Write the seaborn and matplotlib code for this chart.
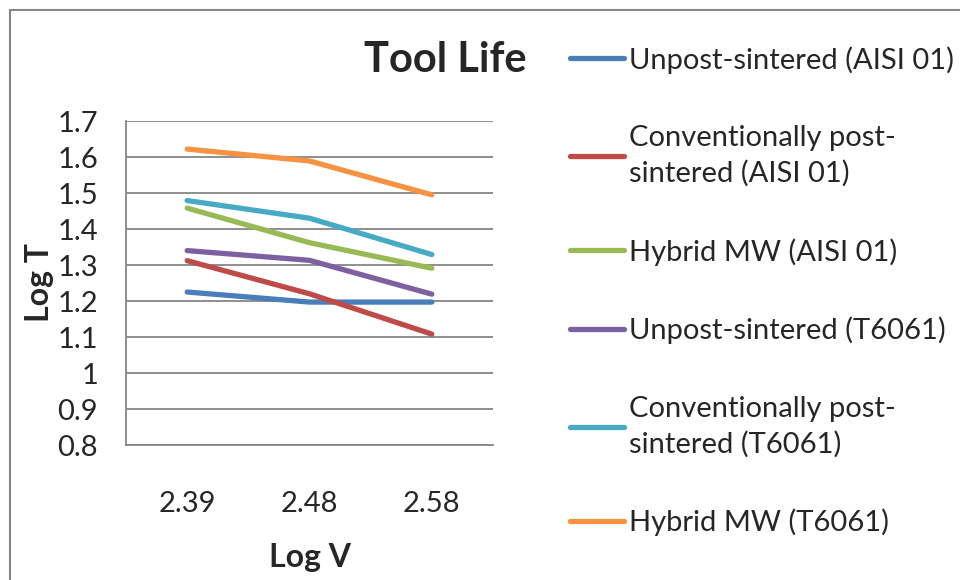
import pandas as pd
import seaborn as sns
import matplotlib.pyplot as plt
from matplotlib.patches import Rectangle

# values
log_v = ['2.39', '2.48', '2.58']
series_names = [
    'Unpost-sintered (AISI 01)',
    'Conventionally post-\nsintered (AISI 01)',
    'Hybrid MW (AISI 01)',
    'Unpost-sintered (T6061)',
    'Conventionally post-\nsintered (T6061)',
    'Hybrid MW (T6061)',
]
unpost_aisi = [1.225, 1.197, 1.197]
conv_aisi = [1.312, 1.220, 1.108]
hybrid_aisi = [1.458, 1.362, 1.291]
unpost_t6061 = [1.340, 1.313, 1.219]
conv_t6061 = [1.479, 1.430, 1.329]
hybrid_t6061 = [1.622, 1.589, 1.495]
colors = ['#4A7EBB', '#BE4B48', '#98B954', '#7D60A0', '#46AAC5', '#F69240']

values = [unpost_aisi, conv_aisi, hybrid_aisi, unpost_t6061, conv_t6061, hybrid_t6061]
rows = []
for name, vals in zip(series_names, values):
    for x, y in zip(log_v, vals):
        rows.append({'Log V': x, 'Log T': y, 'Series': name})
df = pd.DataFrame(rows)

sns.set_style('white')
plt.rcParams['font.family'] = ['Lato', 'DejaVu Sans']

fig = plt.figure(figsize=(9.6, 5.8), dpi=100)
W, H = 960, 580
# axes placed in pixel coords of the reference
left, right, top, bottom = 126, 493, 121, 445
ax = fig.add_axes([left / W, 1 - bottom / H, (right - left) / W, (bottom - top) / H])

sns.lineplot(data=df, x='Log V', y='Log T', hue='Series', palette=colors,
             sort=False, linewidth=3.8, ax=ax, legend=False,
             solid_capstyle='round', solid_joinstyle='round')

ax.set_xlim(-0.5, 2.5)
ax.set_ylim(0.8, 1.7)
ax.set_yticks([0.8, 0.9, 1.0, 1.1, 1.2, 1.3, 1.4, 1.5, 1.6, 1.7])
ax.set_yticklabels(['0.8', '0.9', '1', '1.1', '1.2', '1.3', '1.4', '1.5', '1.6', '1.7'])
ax.grid(axis='y', color='#868686', linewidth=1.3)
ax.set_axisbelow(True)
for s in ['top', 'right']:
    ax.spines[s].set_visible(False)
for s in ['left', 'bottom']:
    ax.spines[s].set_color('#868686')
    ax.spines[s].set_linewidth(1.3)
ax.tick_params(axis='y', length=0, pad=20, labelsize=21)
ax.tick_params(axis='x', length=0, pad=33, labelsize=21)
ax.set_xlabel('')
ax.set_ylabel('')

fig.text(310 / W, 1 - 557 / H, 'Log V', ha='center', va='center',
         fontsize=23, fontweight='bold')
fig.text(40 / W, 1 - 283 / H, 'Log T', ha='center', va='center',
         fontsize=23, fontweight='bold', rotation=90)
fig.text(445 / W, 1 - 60 / H, 'Tool Life', ha='center', va='center',
         fontsize=30, fontweight='bold')

handles = [plt.Line2D([], [], color=c, linewidth=3.8, solid_capstyle='round')
           for c in colors]
leg = fig.legend(handles, series_names, loc='upper left',
                 bbox_to_anchor=(570 / W, 1 - 46 / H), frameon=False,
                 fontsize=21, handlelength=1.85, handletextpad=0.18,
                 labelspacing=1.76, borderpad=0, borderaxespad=0)
for t in leg.get_texts():
    t.set_linespacing(1.4)

fig.patches.append(Rectangle((10 / W, -0.1), 1.1, 1 - 10 / H + 0.1,
                             transform=fig.transFigure, fill=False,
                             edgecolor='#868686', linewidth=1.5))

fig.savefig('out.png', dpi=100)
